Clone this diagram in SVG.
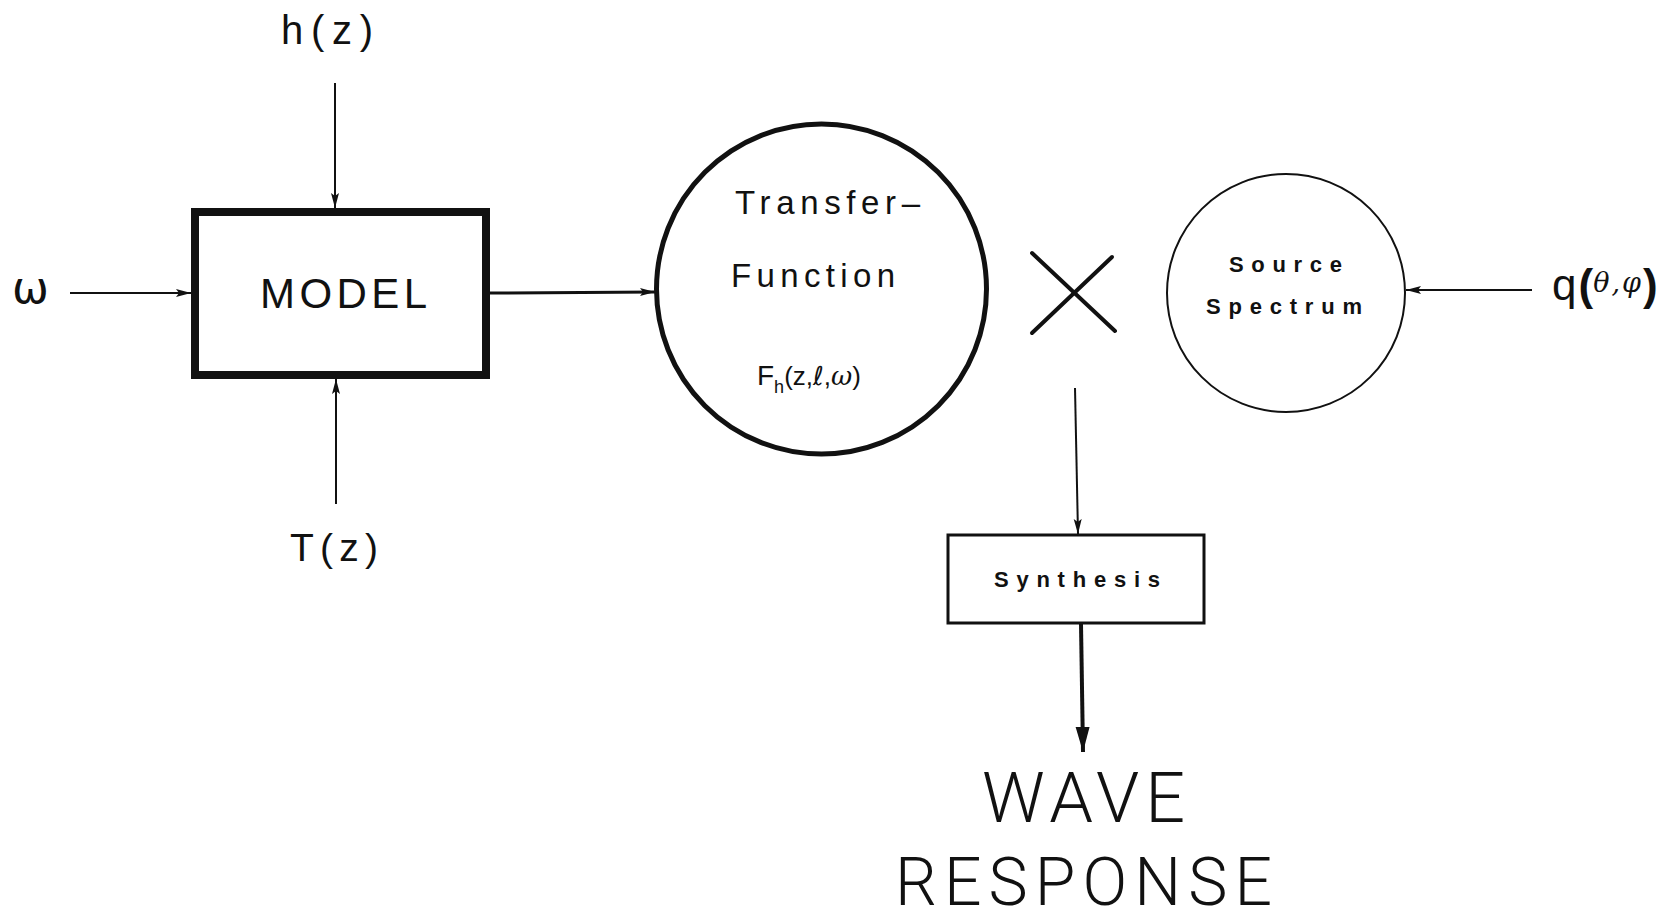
<svg xmlns="http://www.w3.org/2000/svg" width="1672" height="924" viewBox="0 0 1672 924">
<defs>
<style>
text{font-family:"Liberation Sans",Arial,sans-serif;fill:#111}
.ln{stroke:#111;fill:none}
.bold{font-weight:bold}
</style>
<marker id="ah" markerUnits="userSpaceOnUse" markerWidth="16" markerHeight="10" refX="15" refY="5" orient="auto">
<path d="M0,1 L15,5 L0,9 L3,5 Z" fill="#111"/>
</marker>
<marker id="ahb" markerUnits="userSpaceOnUse" markerWidth="26" markerHeight="16" refX="25" refY="8" orient="auto">
<path d="M0,1 L25,8 L0,15 Z" fill="#111"/>
</marker>
</defs>
<rect width="1672" height="924" fill="#fff"/>

<g id="connectors">
<line class="ln" x1="70" y1="293" x2="191" y2="293" stroke-width="2" marker-end="url(#ah)"/>
<line class="ln" x1="335" y1="83" x2="335" y2="208" stroke-width="2" marker-end="url(#ah)"/>
<line class="ln" x1="336" y1="504" x2="336" y2="379" stroke-width="2" marker-end="url(#ah)"/>
<line class="ln" x1="490" y1="293" x2="655" y2="292" stroke-width="3" marker-end="url(#ah)"/>
<line class="ln" x1="1532" y1="290" x2="1406" y2="290" stroke-width="2" marker-end="url(#ah)"/>
<line class="ln" x1="1075" y1="388" x2="1078" y2="534" stroke-width="2" marker-end="url(#ah)"/>
<line class="ln" x1="1081" y1="624" x2="1083" y2="752" stroke-width="4" marker-end="url(#ahb)"/>
</g>

<g id="omega"><text x="12" y="303" font-size="44" style="font-family:'DejaVu Sans',sans-serif">ω</text></g>
<g id="hz"><text x="281" y="44" font-size="40" textLength="92" lengthAdjust="spacing">h(z)</text></g>
<g id="tz"><text x="290" y="561" font-size="39" textLength="88" lengthAdjust="spacing">T(z)</text></g>

<g id="model">
<rect x="195" y="212" width="291" height="163" class="ln" stroke-width="8"/>
<text x="260" y="308" font-size="42" textLength="167" lengthAdjust="spacing">MODEL</text>
</g>

<g id="transfer">
<circle cx="821.5" cy="289" r="165" class="ln" stroke-width="5"/>
<text x="735" y="214" font-size="33" textLength="185" lengthAdjust="spacing">Transfer–</text>
<text x="731" y="287" font-size="33" textLength="164" lengthAdjust="spacing">Function</text>
<text x="757" y="385" font-size="28">F<tspan font-size="18" dy="8">h</tspan><tspan font-size="26" dy="-8">(z,</tspan><tspan font-size="26" style="font-family:'DejaVu Sans',sans-serif" font-style="italic">ℓ</tspan><tspan font-size="26">,</tspan><tspan font-size="26" font-style="italic" style="font-family:'DejaVu Serif',serif">ω</tspan><tspan font-size="26">)</tspan></text>
</g>

<g id="times">
<line class="ln" x1="1032" y1="253" x2="1115" y2="331" stroke-width="4" stroke-linecap="round"/>
<line class="ln" x1="1112" y1="257" x2="1032" y2="333" stroke-width="4" stroke-linecap="round"/>
</g>

<g id="source">
<circle cx="1286" cy="293" r="119" class="ln" stroke-width="2"/>
<text class="bold" x="1229" y="272" font-size="22" textLength="113" lengthAdjust="spacing">Source</text>
<text class="bold" x="1206" y="314" font-size="22" textLength="156" lengthAdjust="spacing">Spectrum</text>
</g>

<g id="q"><text x="1552" y="300" font-size="44">q<tspan font-weight="bold" dx="2">(</tspan><tspan font-size="27" font-style="italic" dy="-8" letter-spacing="2" style="font-family:'DejaVu Serif',serif">θ,φ</tspan><tspan font-weight="bold" dy="8">)</tspan></text></g>

<g id="synthesis">
<rect x="948" y="535" width="256" height="88" class="ln" stroke-width="3"/>
<text class="bold" x="994" y="587" font-size="22" textLength="166" lengthAdjust="spacing">Synthesis</text>
</g>

<g id="wave">
<text x="982" y="822" font-size="70" font-weight="300" textLength="203" lengthAdjust="spacing" style="font-family:Roboto,'Liberation Sans',sans-serif">WAVE</text>
<text x="895" y="905" font-size="66" font-weight="300" textLength="377" lengthAdjust="spacing" style="font-family:Roboto,'Liberation Sans',sans-serif">RESPONSE</text>
</g>
</svg>
